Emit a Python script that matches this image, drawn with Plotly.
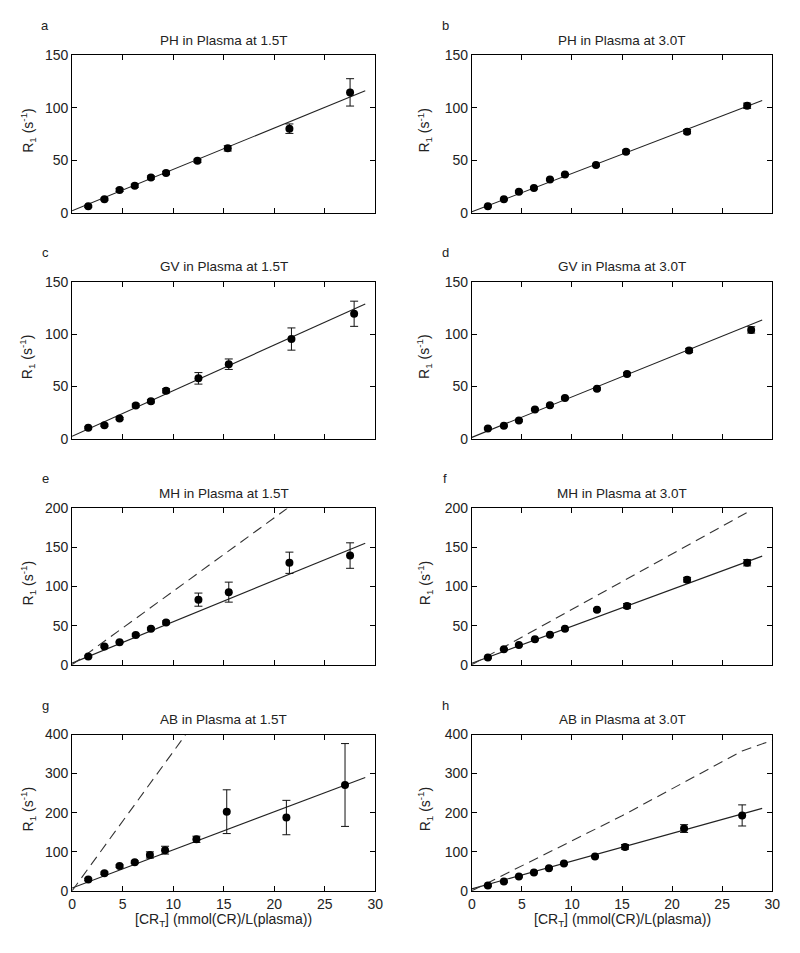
import plotly.graph_objects as go

# The page body keeps the browser's default 8px margin, so the figure is drawn
# 16px smaller than the window and every pixel position is offset by 8px.
PAGE_W, PAGE_H = 800, 953
OFF = 8
W, H = PAGE_W - 2 * OFF, PAGE_H - 2 * OFF

# ---------------- data ----------------
x_PH = [1.6, 3.2, 4.7, 6.2, 7.8, 9.3, 12.4, 15.4, 21.5, 27.5]
x_GV = [1.6, 3.2, 4.7, 6.3, 7.8, 9.3, 12.5, 15.5, 21.7, 27.9]
x_MH = [1.6, 3.2, 4.7, 6.3, 7.8, 9.3, 12.5, 15.5, 21.5, 27.5]
x_AB = [1.6, 3.2, 4.7, 6.2, 7.7, 9.2, 12.3, 15.3, 21.2, 27.0]

y_a = [6.2, 13.0, 21.8, 25.8, 33.6, 38.0, 49.5, 61.3, 80.0, 114.5]
e_a = [1.0, 1.0, 1.5, 1.5, 1.5, 1.5, 1.5, 2.5, 4.5, 13.0]
y_b = [6.2, 13.0, 20.0, 23.6, 31.7, 36.4, 45.4, 58.2, 77.2, 101.8]
e_b = [0.8, 0.8, 1.0, 1.0, 1.0, 1.0, 1.0, 1.5, 2.0, 2.5]
y_c = [10.6, 13.1, 19.4, 31.9, 35.9, 45.9, 57.8, 71.3, 95.3, 119.4]
e_c = [1.0, 1.0, 1.0, 1.5, 1.5, 2.0, 5.5, 5.0, 10.6, 12.0]
y_d = [10.0, 12.5, 17.5, 28.1, 32.2, 39.0, 47.8, 61.9, 84.4, 104.0]
e_d = [0.8, 0.8, 1.0, 1.0, 1.0, 1.0, 1.0, 1.5, 2.0, 3.0]
y_e = [10.5, 23.4, 28.9, 38.0, 46.0, 54.0, 83.3, 92.9, 130.5, 139.7]
e_e = [1.0, 1.0, 1.0, 1.5, 1.5, 2.0, 8.4, 12.8, 13.6, 16.3]
y_f = [9.2, 19.7, 25.1, 32.6, 38.5, 46.0, 70.3, 75.3, 108.8, 130.5]
e_f = [1.0, 1.0, 1.0, 1.0, 1.0, 1.5, 1.5, 3.0, 3.0, 4.0]
y_g = [29.0, 45.0, 63.3, 73.3, 91.7, 104.0, 131.7, 202.5, 187.5, 270.8]
e_g = [3.0, 3.0, 3.0, 3.0, 8.0, 10.0, 8.0, 56.0, 44.0, 106.0]
y_h = [13.4, 23.5, 36.9, 47.0, 57.9, 69.6, 88.0, 112.4, 159.3, 192.9]
e_h = [2.0, 2.0, 2.0, 2.0, 2.0, 2.0, 2.0, 6.0, 10.0, 27.0]

# linear fits (solid)
fit_x = [0, 29]
fit_a = [2.0, 116.0]
fit_b = [1.0, 106.7]
fit_c = [2.5, 128.7]
fit_d = [1.5, 113.4]
fit_e = [2.0, 155.6]
fit_f = [2.0, 139.0]
fit_g = [7.0, 290.0]
fit_h = [5.0, 211.0]

# predicted curves (dashed)
dash_e_x = [0, 30]
dash_e_y = [0, 282]
dash_f_x = [0, 27.8]
dash_f_y = [0, 197]
dash_g_x = [0, 12]
dash_g_y = [0, 427]
dash_h_x = [0, 15, 27, 30]
dash_h_y = [0, 192, 358, 385]

titles = ["PH in Plasma at 1.5T", "PH in Plasma at 3.0T",
          "GV in Plasma at 1.5T", "GV in Plasma at 3.0T",
          "MH in Plasma at 1.5T", "MH in Plasma at 3.0T",
          "AB in Plasma at 1.5T", "AB in Plasma at 3.0T"]
letters = ["a", "b", "c", "d", "e", "f", "g", "h"]
x_ticks = [0, 5, 10, 15, 20, 25, 30]
y_max = [150, 150, 150, 150, 200, 200, 400, 400]
y_dtick = [50, 50, 50, 50, 50, 50, 100, 100]

panels = [
    (x_PH, y_a, e_a, fit_a, None, None),
    (x_PH, y_b, e_b, fit_b, None, None),
    (x_GV, y_c, e_c, fit_c, None, None),
    (x_GV, y_d, e_d, fit_d, None, None),
    (x_MH, y_e, e_e, fit_e, dash_e_x, dash_e_y),
    (x_MH, y_f, e_f, fit_f, dash_f_x, dash_f_y),
    (x_AB, y_g, e_g, fit_g, dash_g_x, dash_g_y),
    (x_AB, y_h, e_h, fit_h, dash_h_x, dash_h_y),
]

# ---------------- layout geometry (page pixels) ----------------
col_px = [(69, 377), (475, 780)]
row_px = [(47.7, 208.3), (278.3, 438.3), (509, 668), (739, 898)]


def px(xp):
    return (xp - OFF) / W


def py(yp):
    return 1 - (yp - OFF) / H


FONT = "Liberation Sans, Arial, sans-serif"
fig = go.Figure()
layout = dict(
    width=W, height=H, margin=dict(l=0, r=0, t=0, b=0),
    paper_bgcolor="white", plot_bgcolor="white", showlegend=False,
    font=dict(family=FONT, size=14, color="#222"),
)
annotations = []

for i, (xs, ys, es, fit, dx, dy) in enumerate(panels):
    r, c = divmod(i, 2)
    n = i + 1
    xa = "x" if n == 1 else f"x{n}"
    ya = "y" if n == 1 else f"y{n}"
    x0, x1 = col_px[c]
    t0, t1 = row_px[r]

    fig.add_trace(go.Scatter(x=fit_x, y=fit, mode="lines",
                             line=dict(color="#222", width=1.1),
                             xaxis=xa, yaxis=ya, hoverinfo="skip"))
    if dx is not None:
        fig.add_trace(go.Scatter(x=dx, y=dy, mode="lines",
                                 line=dict(color="#333", width=1.1, dash="10px,6px"),
                                 xaxis=xa, yaxis=ya, hoverinfo="skip"))
    fig.add_trace(go.Scatter(x=xs, y=ys, mode="markers",
                             marker=dict(color="black", size=8),
                             error_y=dict(type="data", array=es, color="#111",
                                          thickness=1, width=4),
                             xaxis=xa, yaxis=ya))

    axcommon = dict(showline=True, linecolor="black", linewidth=1, mirror="ticks",
                    ticks="inside", ticklen=5, tickcolor="black", tickwidth=1,
                    showgrid=False, zeroline=False,
                    tickfont=dict(family=FONT, size=14, color="#222"))
    layout["xaxis" if n == 1 else f"xaxis{n}"] = dict(
        domain=[px(x0), px(x1)], anchor=ya, range=[0, 30],
        tickvals=x_ticks, showticklabels=(r == 3), **axcommon)
    layout["yaxis" if n == 1 else f"yaxis{n}"] = dict(
        domain=[py(t1), py(t0)], anchor=xa, range=[0, y_max[i]],
        dtick=y_dtick[i], tick0=0, **axcommon)

    cx = (x0 + x1) / 2
    # title
    annotations.append(dict(text=titles[i], x=px(cx), y=py(t0 - 15),
                            xref="paper", yref="paper", showarrow=False,
                            xanchor="center", yanchor="middle",
                            font=dict(family=FONT, size=13.5, color="#222")))
    # panel letter
    lx = 42 if c == 0 else 448
    annotations.append(dict(text=letters[i], x=px(lx), y=py(t0 - 30),
                            xref="paper", yref="paper", showarrow=False,
                            xanchor="center", yanchor="middle",
                            font=dict(family=FONT, size=13, color="#222")))
    # y-axis title
    yx = 24 if c == 0 else 427
    annotations.append(dict(text="R<sub>1</sub> (s<sup>-1</sup>)",
                            x=px(yx), y=py((t0 + t1) / 2 - 4),
                            xref="paper", yref="paper", showarrow=False,
                            textangle=-90, xanchor="center", yanchor="middle",
                            font=dict(family=FONT, size=14, color="#222")))
    if r == 3:
        annotations.append(dict(text="[CR<sub>T</sub>] (mmol(CR)/L(plasma))",
                                x=px(cx), y=py(928),
                                xref="paper", yref="paper", showarrow=False,
                                xanchor="center", yanchor="middle",
                                font=dict(family=FONT, size=14, color="#222")))

layout["annotations"] = annotations
fig.update_layout(**layout)
fig.write_html("out.html", config={"displayModeBar": False})
